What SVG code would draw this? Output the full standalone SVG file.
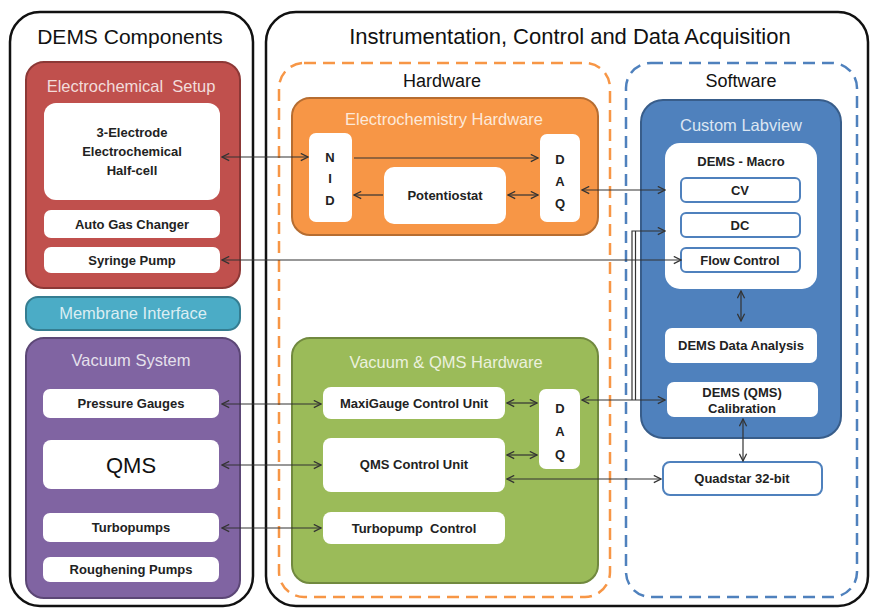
<svg xmlns="http://www.w3.org/2000/svg" width="872" height="610" viewBox="0 0 872 610">
<defs>
<marker id="ah" viewBox="0 0 10 10" refX="9" refY="5" markerWidth="9" markerHeight="9" markerUnits="userSpaceOnUse" orient="auto-start-reverse">
<path d="M1,1 L9,5 L1,9" fill="none" stroke="#333" stroke-width="1.4"/>
</marker>
<style>
text{font-family:"Liberation Sans",Arial,sans-serif;text-anchor:middle}
.h1{font-size:21px;fill:#111}
.h1w{font-size:22px;fill:#111}
.h2{font-size:18px;fill:#111}
.sec{font-size:16.5px}
.box{font-size:13px;font-weight:bold;fill:#222}
.wb{fill:#fff}
.sb{fill:#fff;stroke:#4f81bd;stroke-width:2}
.outer{fill:#fff;stroke:#111;stroke-width:2.5}
.c{fill:none;stroke:#333;stroke-width:1.2}
.cc{fill:none;stroke:#333;stroke-width:1.2;marker-start:url(#ah);marker-end:url(#ah)}
.ce{fill:none;stroke:#333;stroke-width:1.2;marker-end:url(#ah)}
</style>
</defs>

<g id="panel-components">
<rect class="outer" x="10" y="12" width="243" height="594" rx="30"/>
<text class="h1" x="130" y="44">DEMS Components</text>
</g>
<g id="panel-instrumentation">
<rect class="outer" x="266" y="12" width="602" height="594" rx="30"/>
<text class="h1w" x="570" y="44">Instrumentation, Control and Data Acquisition</text>
</g>

<g id="electrochemical-setup">
<rect x="26" y="62" width="214" height="226" rx="18" fill="#c0504d" stroke="#8c3836" stroke-width="2"/>
<text class="sec" x="131" y="92" fill="#f2dcdb">Electrochemical&#160; Setup</text>
</g>
<g id="half-cell">
<rect class="wb" x="44" y="103" width="176" height="97" rx="12"/>
<text class="box" x="132" y="137">3-Electrode</text>
<text class="box" x="132" y="156">Electrochemical</text>
<text class="box" x="132" y="175">Half-cell</text>
</g>
<g id="auto-gas-changer">
<rect class="wb" x="44" y="210" width="176" height="28" rx="7"/>
<text class="box" x="132" y="229">Auto Gas Changer</text>
</g>
<g id="syringe-pump">
<rect class="wb" x="44" y="247" width="176" height="26" rx="7"/>
<text class="box" x="132" y="265">Syringe Pump</text>
</g>

<g id="membrane-interface">
<rect x="26" y="297" width="214" height="33" rx="12" fill="#4bacc6" stroke="#357d91" stroke-width="2"/>
<text class="sec" x="133" y="319" fill="#dbeef3">Membrane Interface</text>
</g>

<g id="vacuum-system">
<rect x="26" y="338" width="214" height="260" rx="18" fill="#8064a2" stroke="#5c4776" stroke-width="2"/>
<text class="sec" x="131" y="366" fill="#e5e0ec">Vacuum System</text>
</g>
<g id="pressure-gauges">
<rect class="wb" x="43" y="389" width="176" height="29" rx="7"/>
<text class="box" x="131" y="408">Pressure Gauges</text>
</g>
<g id="qms">
<rect class="wb" x="43" y="440" width="176" height="49" rx="8"/>
<text x="131" y="473" font-size="22" fill="#111">QMS</text>
</g>
<g id="turbopumps">
<rect class="wb" x="43" y="513" width="176" height="29" rx="7"/>
<text class="box" x="131" y="532">Turbopumps</text>
</g>
<g id="roughening-pumps">
<rect class="wb" x="43" y="557" width="176" height="25" rx="7"/>
<text class="box" x="131" y="574">Roughening Pumps</text>
</g>

<g id="hardware">
<rect x="279" y="63" width="331" height="534" rx="25" fill="none" stroke="#f79646" stroke-width="2.5" stroke-dasharray="12 7"/>
<text class="h2" x="442" y="87">Hardware</text>
</g>
<g id="electrochemistry-hardware">
<rect x="292" y="98" width="306" height="137" rx="18" fill="#f79646" stroke="#b66d31" stroke-width="2"/>
<text class="sec" x="444" y="125" fill="#fde9d9">Electrochemistry Hardware</text>
</g>
<g id="nid">
<rect class="wb" x="309" y="133" width="43" height="89" rx="7"/>
<text class="box" x="330" y="162">N</text>
<text class="box" x="330" y="183">I</text>
<text class="box" x="330" y="205">D</text>
</g>
<g id="potentiostat">
<rect class="wb" x="384" y="167" width="122" height="57" rx="10"/>
<text class="box" x="445" y="200">Potentiostat</text>
</g>
<g id="daq-echem">
<rect class="wb" x="540" y="134" width="40" height="88" rx="7"/>
<text class="box" x="560" y="164">D</text>
<text class="box" x="560" y="186">A</text>
<text class="box" x="560" y="208">Q</text>
</g>

<g id="vacuum-qms-hardware">
<rect x="292" y="338" width="306" height="245" rx="18" fill="#9bbb59" stroke="#71893f" stroke-width="2"/>
<text class="sec" x="446" y="368" fill="#ebf1de">Vacuum &amp; QMS Hardware</text>
</g>
<g id="maxigauge">
<rect class="wb" x="323" y="387" width="182" height="32" rx="8"/>
<text class="box" x="414" y="408">MaxiGauge Control Unit</text>
</g>
<g id="qms-control-unit">
<rect class="wb" x="323" y="438" width="182" height="54" rx="8"/>
<text class="box" x="414" y="469">QMS Control Unit</text>
</g>
<g id="turbopump-control">
<rect class="wb" x="323" y="512" width="182" height="32" rx="8"/>
<text class="box" x="414" y="533">Turbopump&#160; Control</text>
</g>
<g id="daq-vacuum">
<rect class="wb" x="539" y="389" width="41" height="80" rx="7"/>
<text class="box" x="560" y="413">D</text>
<text class="box" x="560" y="436">A</text>
<text class="box" x="560" y="459">Q</text>
</g>

<g id="software">
<rect x="626" y="63" width="231" height="534" rx="25" fill="none" stroke="#4f81bd" stroke-width="2.5" stroke-dasharray="12 7"/>
<text class="h2" x="741" y="87">Software</text>
</g>
<g id="custom-labview">
<rect x="641" y="100" width="200" height="338" rx="22" fill="#4f81bd" stroke="#385d8a" stroke-width="2"/>
<text class="sec" x="741" y="131" fill="#dce6f2">Custom Labview</text>
</g>
<g id="dems-macro">
<rect class="wb" x="665" y="143" width="152" height="146" rx="15"/>
<text class="box" x="741" y="166">DEMS - Macro</text>
</g>
<g id="cv">
<rect class="sb" x="681" y="178" width="119" height="24" rx="5"/>
<text class="box" x="740" y="195">CV</text>
</g>
<g id="dc">
<rect class="sb" x="681" y="213" width="119" height="24" rx="5"/>
<text class="box" x="740" y="230">DC</text>
</g>
<g id="flow-control">
<rect class="sb" x="681" y="248" width="119" height="24" rx="5"/>
<text class="box" x="740" y="265">Flow Control</text>
</g>
<g id="dems-data-analysis">
<rect class="wb" x="665" y="328" width="152" height="35" rx="7"/>
<text class="box" x="741" y="350">DEMS Data Analysis</text>
</g>
<g id="dems-calibration">
<rect class="wb" x="667" y="382" width="151" height="35" rx="7"/>
<text class="box" x="742" y="397">DEMS (QMS)</text>
<text class="box" x="742" y="413">Calibration</text>
</g>
<g id="quadstar">
<rect class="sb" x="663" y="462" width="159" height="33" rx="7" stroke-width="2.5"/>
<text class="box" x="742" y="483">Quadstar 32-bit</text>
</g>

<g id="connectors">
<line class="cc" x1="222" y1="157" x2="308" y2="157"/>
<line class="ce" x1="354" y1="158" x2="538" y2="158"/>
<line class="ce" x1="383" y1="195" x2="354" y2="195"/>
<line class="cc" x1="508" y1="195" x2="538" y2="195"/>
<line class="cc" x1="582" y1="190" x2="665" y2="190"/>
<line class="cc" x1="222" y1="260" x2="681" y2="260"/>
<path class="ce" d="M632,400 V231 H665"/>
<line class="c" x1="635.5" y1="400" x2="635.5" y2="231"/>
<line class="cc" x1="582" y1="400" x2="665" y2="400"/>
<line class="cc" x1="507" y1="479" x2="661" y2="479"/>
<line class="cc" x1="222" y1="404" x2="321" y2="404"/>
<line class="cc" x1="222" y1="465" x2="321" y2="465"/>
<line class="cc" x1="222" y1="528" x2="321" y2="528"/>
<line class="cc" x1="507" y1="403" x2="537" y2="403"/>
<line class="cc" x1="507" y1="455" x2="537" y2="455"/>
<line class="cc" x1="741" y1="291" x2="741" y2="321"/>
<line class="cc" x1="743" y1="419" x2="743" y2="461"/>
</g>
</svg>
